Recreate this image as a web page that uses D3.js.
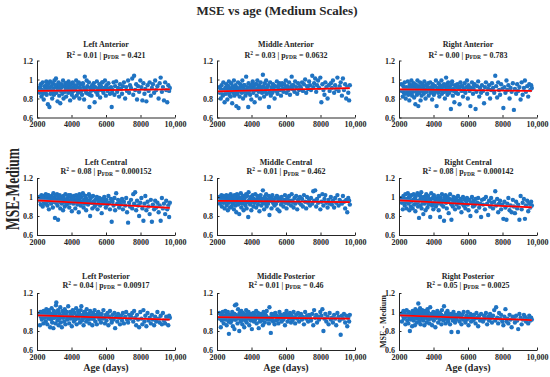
<!DOCTYPE html>
<html><head><meta charset="utf-8">
<script src="https://cdn.jsdelivr.net/npm/d3@7"></script>
<style>
body{margin:0;background:#fff}
svg{display:block}
text{font-family:"Liberation Serif","Times New Roman",serif;font-weight:bold;fill:#262626}
</style></head>
<body><svg id="c" width="550" height="377"></svg>
<script>
// ---- data ----
const ages = [
2130,2170,2220,2260,2280,2330,2370,2390,2440,2480,
2510,2540,2560,2600,2630,2670,2690,2720,2760,2790,
2820,2850,2880,2920,2950,2980,3010,3040,3070,3100,
3120,3160,3190,3220,3250,3290,3310,3350,3380,3410,
3440,3470,3510,3540,3580,3610,3650,3690,3720,3770,
3810,3830,3870,3920,3960,3990,4020,4070,4110,4140,
4180,4220,4270,4300,4340,4380,4420,4460,4490,4530,
4570,4610,4660,4700,4730,4770,4810,4850,4880,4920,
4960,5010,5040,5080,5120,5160,5210,5250,5290,5340,
5380,5420,5470,5510,5560,5620,5660,5710,5750,5800,
5850,5900,5940,5990,6030,6090,6140,6180,6230,6290,
6330,6380,6440,6490,6530,6590,6650,6700,6760,6810,
6870,6930,6980,7040,7110,7170,7220,7280,7340,7390,
7450,7520,7580,7630,7690,7750,7800,7860,7920,7990,
8050,8110,8170,8230,8280,8340,8410,8470,8530,8600,
8660,8720,8790,8850,8910,8980,9050,9110,9170,9240,
9300,9360,9430,9490,9550,9610,9660,9700,2200,2350,
2580,2740,2900,3060,3230,3400,3560,3750,3940,4100,
4290,4450,4640,4830,5060,5300,5530,5780,6060,6350,
2310,2650,3000,3330,3680,4040,4400,4790,5180,5590];

const mseLeftAnterior = [
0.91,0.86,0.95,0.82,0.89,0.97,0.88,0.79,0.93,0.90,
0.87,0.98,0.84,0.92,0.74,0.96,0.89,0.71,0.98,0.85,
0.93,0.88,0.80,0.96,0.90,0.84,0.99,0.87,0.92,1.01,
0.86,0.94,0.77,0.90,0.97,0.83,0.91,0.75,0.88,0.95,
0.92,0.85,0.99,0.80,0.93,0.87,0.96,0.82,0.90,0.94,
0.86,0.98,0.91,0.78,0.95,0.88,0.84,0.97,0.92,0.81,
0.94,0.89,0.99,0.83,0.92,0.86,0.97,0.80,0.91,0.95,
0.88,0.84,0.96,0.92,0.79,1.03,0.90,0.86,0.99,0.93,
0.85,0.97,0.71,0.91,0.88,0.83,0.94,0.89,0.96,0.76,
0.92,0.87,0.98,0.84,0.90,0.95,0.81,0.93,0.89,0.97,
0.86,0.91,0.99,0.83,0.94,0.88,0.96,0.90,0.85,0.92,
0.71,0.89,0.97,0.84,0.93,0.98,0.87,0.91,0.82,0.95,
0.90,0.85,0.93,0.97,0.80,0.92,0.88,0.99,0.86,0.94,
0.91,1.01,0.84,1.04,0.89,0.95,0.79,0.93,0.87,0.99,
0.92,0.78,0.96,0.85,0.90,0.77,0.94,0.88,0.97,0.83,
0.91,0.95,0.86,0.99,0.89,0.93,0.80,0.96,1.02,0.87,
0.92,0.78,0.97,0.89,0.76,0.94,0.88,0.91,0.93,0.85,
0.95,0.90,0.86,0.94,0.89,0.93,0.87,0.96,0.91,0.88,
0.93,0.87,0.95,0.90,0.84,0.92,0.88,0.97,0.91,0.86,
0.88,0.92,0.85,0.94,0.90,0.87,0.96,0.89,0.93,0.91];

const mseMiddleAnterior = [
0.92,0.86,0.80,0.94,0.88,0.83,0.97,0.89,0.76,0.91,
0.85,0.95,0.88,0.79,0.93,0.87,0.98,0.84,0.90,0.82,
0.96,0.88,0.75,0.92,0.86,0.99,0.83,0.90,0.94,0.87,
0.72,0.91,0.85,0.97,0.70,0.89,0.82,0.95,0.88,0.93,
0.86,0.99,0.80,0.91,0.87,0.94,0.83,1.03,0.89,0.92,
0.71,0.96,0.88,0.84,0.93,0.79,0.90,0.98,0.86,0.92,
0.76,0.95,0.89,0.83,0.99,0.91,0.87,0.94,0.80,0.97,
0.90,0.86,1.05,0.93,0.82,0.96,0.89,0.99,0.85,0.92,
0.94,0.71,0.88,0.97,0.83,0.91,0.86,0.95,0.90,0.80,
0.93,0.88,0.98,0.85,0.92,0.96,0.89,0.83,0.94,0.90,
0.87,0.95,0.91,0.99,0.86,0.93,0.89,0.97,0.84,0.92,
1.03,0.90,0.94,0.87,0.98,0.92,0.85,0.96,0.89,0.93,
0.91,0.97,0.88,0.95,1.00,0.86,0.93,0.90,0.98,0.94,
0.89,1.04,0.92,0.96,1.01,0.87,0.94,0.99,0.91,1.02,
0.76,0.95,0.89,0.84,0.97,0.92,0.80,0.94,0.88,0.96,
0.91,0.99,0.86,0.94,0.90,1.02,0.88,0.93,0.97,0.83,
1.01,0.89,0.95,0.80,0.92,0.86,0.78,0.94,0.90,0.84,
0.91,0.87,0.93,0.85,0.90,0.88,0.94,0.86,0.92,0.89,
0.95,0.88,0.92,0.90,0.86,0.93,0.89,0.96,0.91,0.94,
0.89,0.93,0.86,0.91,0.88,0.95,0.90,0.87,0.92,0.94];

const mseRightAnterior = [
0.95,0.88,0.82,0.93,0.86,0.97,0.90,0.80,0.92,0.87,
0.98,0.84,0.91,0.78,0.95,0.89,0.86,0.99,0.83,0.93,
0.87,0.96,0.81,0.91,0.74,0.94,0.88,0.84,0.99,0.90,
0.72,0.93,0.86,0.97,0.78,0.90,0.83,0.95,0.88,0.92,
0.85,0.98,0.89,0.80,0.94,0.87,0.91,0.96,0.83,0.90,
0.97,0.86,0.92,0.79,0.95,0.89,0.84,0.93,0.88,0.99,
0.72,0.91,0.86,0.96,0.82,0.94,0.89,0.99,0.85,0.92,
0.87,0.95,0.80,0.92,1.02,0.88,0.84,0.97,0.91,0.86,
0.93,0.69,0.89,0.98,0.83,0.90,0.76,0.94,0.87,0.92,
0.95,0.85,0.91,0.74,0.97,0.88,0.93,0.82,0.90,0.96,
0.86,0.92,0.99,0.80,0.94,0.88,0.72,0.91,0.97,0.85,
0.90,0.95,0.69,0.87,0.93,0.98,0.82,0.91,0.86,0.94,
0.88,0.75,0.92,0.97,0.85,0.90,0.94,0.80,0.89,0.96,
0.91,0.86,1.04,0.93,0.81,0.97,0.89,0.84,0.95,0.90,
0.70,0.92,0.86,0.99,0.89,0.94,0.80,0.91,0.87,0.96,
0.68,0.90,0.85,0.95,0.88,0.92,0.79,0.97,0.84,0.91,
0.99,0.87,0.93,0.82,0.95,0.89,0.94,0.91,0.88,0.85,
0.92,0.89,0.95,0.86,0.91,0.88,0.94,0.90,0.87,0.93,
0.89,0.93,0.87,0.91,0.95,0.86,0.92,0.88,0.90,0.94,
0.91,0.87,0.94,0.89,0.92,0.86,0.90,0.95,0.88,0.93];

const mseLeftCentral = [
1.00,0.96,0.92,1.02,0.97,0.90,1.01,0.95,0.93,0.98,
1.03,0.94,0.99,0.91,1.02,0.96,0.87,1.00,0.95,0.98,
0.93,1.01,0.97,0.89,1.04,0.95,0.99,0.78,1.02,0.94,
0.97,1.03,0.91,0.76,0.99,0.95,1.02,0.88,0.96,1.00,
0.93,0.98,0.86,1.01,0.95,0.90,1.03,0.97,0.92,0.99,
0.96,1.02,0.89,0.94,1.00,0.97,0.85,0.99,0.93,1.01,
0.95,0.88,1.02,0.97,0.92,0.99,0.84,1.03,0.96,0.91,
1.00,0.94,1.04,0.89,0.97,0.93,1.01,0.86,0.98,0.95,
0.92,1.03,0.96,0.80,0.99,0.94,0.88,1.01,0.95,0.90,
0.97,0.92,1.00,0.87,0.95,0.99,0.91,0.96,0.83,0.98,
0.93,1.00,0.96,0.89,0.97,0.92,1.01,0.94,0.87,0.98,
0.74,0.95,0.91,0.99,0.86,1.04,0.93,0.97,0.89,0.95,
0.92,0.98,0.87,0.95,0.91,0.99,0.84,0.73,0.94,0.90,
0.97,0.88,1.03,0.93,1.05,0.86,0.96,0.91,0.80,0.94,
0.99,0.88,0.75,0.93,1.01,0.86,0.95,0.90,0.82,0.97,
0.74,0.92,0.87,0.96,0.89,0.94,0.84,0.91,0.75,0.99,
0.88,0.93,0.82,0.96,0.87,0.91,0.79,0.94,0.99,0.97,
1.01,0.97,0.99,0.95,1.00,0.96,0.98,0.93,1.02,0.97,
0.98,1.00,0.95,0.97,1.01,0.94,0.99,0.96,0.93,0.97,
0.99,1.02,0.96,1.00,0.97,0.99,0.95,1.01,0.94,0.98];

const mseMiddleCentral = [
1.00,0.93,0.97,1.02,0.90,0.96,1.01,0.94,0.88,0.99,
0.95,1.02,0.91,0.98,0.86,1.01,0.94,0.97,0.89,1.03,
0.96,0.90,1.00,0.93,0.98,0.87,1.02,0.95,0.91,0.99,
0.84,1.03,0.96,0.92,1.00,0.82,0.97,0.94,1.04,0.89,
0.98,0.93,1.01,0.86,0.96,0.99,0.91,1.03,0.88,0.95,
0.79,1.05,0.97,0.92,1.00,0.86,0.95,1.02,0.90,0.98,
0.94,1.03,0.89,0.97,1.01,0.92,0.99,0.85,0.96,1.02,
0.91,0.98,1.07,0.94,0.87,1.00,0.95,1.03,0.90,0.97,
0.93,1.01,0.81,0.96,0.99,0.88,1.02,0.94,0.97,0.91,
0.99,0.93,1.01,0.87,0.96,0.85,0.98,0.92,1.00,0.95,
0.90,0.97,1.02,0.94,0.88,0.99,0.93,1.01,0.96,0.91,
1.03,0.95,0.89,0.99,0.93,1.01,0.87,0.97,0.94,1.00,
0.92,0.98,0.90,1.02,0.95,0.88,1.00,0.94,0.97,0.91,
0.99,0.93,1.06,0.96,1.07,0.90,0.98,0.94,1.01,0.87,
0.95,1.03,0.91,0.98,1.02,0.94,0.89,0.97,0.93,1.00,
0.92,0.96,0.89,0.99,0.94,1.02,0.91,0.97,0.95,0.93,
1.01,0.95,0.88,0.97,0.84,0.99,0.96,0.92,0.98,0.95,
0.97,1.00,0.95,0.98,0.93,0.99,0.96,1.01,0.94,0.97,
0.96,0.99,0.94,0.98,0.97,0.93,1.00,0.95,0.98,0.96,
0.98,0.95,1.00,0.97,0.94,0.99,0.96,0.93,0.98,0.97];

const mseRightCentral = [
0.99,0.94,0.87,1.01,0.96,0.91,1.03,0.95,0.88,0.98,
1.04,0.93,0.99,0.86,1.01,0.95,0.90,1.02,0.96,0.88,
0.97,1.03,0.92,0.99,0.85,1.01,0.94,0.96,1.04,0.90,
0.95,0.78,1.02,0.97,0.91,1.05,0.88,0.99,0.94,0.82,
1.00,0.93,0.97,0.86,1.03,0.95,0.89,1.01,0.92,0.98,
0.79,0.96,1.04,0.91,0.99,0.87,1.02,0.94,0.97,0.90,
0.98,0.93,1.01,0.86,0.95,0.79,0.99,0.92,1.03,0.96,
0.90,0.75,0.97,1.02,0.94,0.88,1.00,0.95,0.83,0.98,
1.03,0.93,0.76,0.97,0.90,1.00,0.95,0.87,0.99,0.92,
0.96,1.01,0.89,0.94,0.98,0.84,0.93,1.00,0.91,0.97,
0.88,0.95,0.99,0.92,0.86,0.97,0.80,0.94,1.00,0.90,
0.96,0.91,0.98,0.85,0.94,0.99,0.89,0.93,0.79,0.97,
0.92,0.98,0.87,1.00,0.93,0.81,0.96,0.90,0.99,0.94,
0.88,0.95,1.06,0.91,0.98,0.84,0.93,0.96,0.87,0.92,
0.77,0.95,0.89,0.76,0.93,0.99,0.86,0.91,0.84,0.97,
0.90,0.83,0.95,0.88,0.92,0.76,1.01,0.87,0.94,0.98,
0.77,0.91,0.96,0.85,0.93,0.89,0.95,0.91,0.97,0.95,
1.00,0.96,0.98,0.94,1.01,0.97,0.99,0.95,0.93,0.98,
0.97,0.94,1.00,0.96,0.92,0.98,0.95,0.91,0.97,0.93,
0.98,1.01,0.95,0.99,0.96,1.00,0.94,0.97,0.99,0.96];

const mseLeftPosterior = [
0.98,0.86,0.95,1.00,0.92,0.97,0.88,1.01,0.94,0.99,
0.90,1.03,0.96,0.87,0.99,0.93,1.02,0.95,0.84,0.98,
0.92,1.04,0.89,0.97,0.83,1.01,0.94,0.99,0.88,1.07,
1.10,0.95,0.91,1.02,0.86,0.98,0.93,1.05,0.89,0.96,
0.84,1.01,0.94,0.99,0.90,1.03,0.87,0.96,1.00,0.92,
1.06,0.95,0.88,1.00,0.93,0.97,0.85,1.02,0.94,0.90,
0.99,0.92,1.04,0.87,0.96,1.01,0.93,0.98,0.89,1.02,
1.06,0.91,0.97,0.86,1.00,0.94,0.99,0.90,1.03,0.95,
0.92,0.98,0.88,1.01,0.94,0.96,0.86,0.99,0.93,1.02,
0.90,0.97,0.87,0.95,1.00,0.92,0.96,0.89,0.98,0.93,
1.02,0.94,0.88,0.97,0.91,0.99,0.86,0.95,1.01,0.93,
0.89,0.97,0.92,0.99,0.83,0.95,0.90,0.98,0.94,0.87,
0.96,0.91,0.99,0.88,0.95,1.00,0.92,0.89,0.97,0.93,
0.95,0.99,0.90,1.01,0.94,0.86,0.97,0.92,0.84,1.00,
0.93,0.87,1.02,0.90,0.96,0.85,0.99,0.91,0.94,0.88,
0.97,0.92,0.86,0.95,0.90,1.00,0.93,0.89,0.96,0.87,
0.99,0.91,0.88,0.95,0.93,0.86,0.96,0.94,1.00,0.95,
0.96,0.99,0.94,0.97,1.00,0.95,0.98,0.93,0.97,1.01,
0.95,0.98,0.94,0.97,0.93,0.96,0.99,0.94,0.97,0.92,
0.97,0.94,0.99,0.96,1.00,0.95,0.98,0.96,0.93,0.97];

const mseMiddlePosterior = [
0.99,0.93,0.84,0.97,0.91,1.00,0.95,0.88,0.96,1.01,
0.92,0.98,0.86,0.95,1.00,0.90,0.77,0.97,0.93,0.89,
0.96,0.91,1.00,0.85,0.94,0.98,0.82,1.07,0.92,0.97,
1.08,0.93,0.88,1.03,0.96,0.80,0.99,0.94,0.90,1.01,
0.95,0.87,0.99,0.92,0.84,0.97,0.91,1.02,0.89,0.96,
0.93,1.00,0.86,0.96,0.91,0.98,0.82,0.94,0.99,0.90,
0.97,0.92,1.01,0.88,0.95,0.99,0.83,0.94,0.90,0.98,
0.91,0.96,0.86,1.00,0.93,0.89,0.97,0.95,1.01,0.92,
0.94,0.88,1.05,0.92,0.78,0.98,0.95,0.90,0.96,0.87,
0.99,0.91,0.96,0.93,0.88,1.00,0.94,0.97,0.90,0.95,
0.92,0.98,0.86,0.95,1.01,0.90,0.96,0.93,0.99,0.89,
0.96,0.91,1.00,0.94,0.88,0.97,0.93,0.99,0.90,0.95,
0.98,0.92,0.95,0.87,1.00,0.93,0.96,0.90,0.97,0.94,
0.91,0.98,0.86,1.02,0.94,0.97,0.89,0.95,0.92,1.00,
0.96,1.03,0.80,0.93,0.98,0.90,0.95,0.87,0.99,0.92,
0.94,0.89,0.97,0.93,0.86,0.99,0.95,0.91,0.76,0.96,
0.93,0.98,0.89,0.96,0.85,0.94,0.90,0.97,0.95,0.93,
0.96,0.94,0.98,0.92,0.95,0.97,0.93,0.99,0.94,0.96,
0.95,0.97,0.93,0.96,0.94,0.98,0.92,0.95,0.97,0.94,
0.94,0.96,0.98,0.93,0.95,0.97,0.94,0.96,0.92,0.95];

const mseRightPosterior = [
0.98,0.90,0.96,1.01,0.93,0.99,0.87,0.95,1.02,0.91,
0.97,0.88,1.00,0.94,0.80,0.98,0.92,0.96,0.85,1.01,
0.95,0.91,0.99,0.86,1.03,0.94,0.97,0.89,1.01,0.93,
1.09,0.96,0.90,1.04,0.87,0.99,0.93,1.02,0.95,0.91,
0.98,0.86,1.01,0.94,0.97,0.89,1.03,0.92,0.96,0.88,
1.05,0.93,0.98,0.86,0.95,1.00,0.91,0.97,0.84,0.99,
0.94,1.01,0.89,0.96,0.99,0.92,0.97,0.87,1.02,0.95,
0.91,1.06,0.96,0.88,0.99,0.93,1.01,0.90,0.97,0.94,
0.87,0.98,0.79,0.95,0.91,1.00,0.93,0.89,0.97,0.92,
0.96,0.79,0.99,0.90,0.94,0.87,0.97,0.92,1.00,0.93,
0.89,0.96,0.92,1.00,0.86,0.94,0.98,0.90,0.95,0.91,
0.97,0.93,0.88,0.99,0.94,0.85,0.96,0.91,0.98,0.92,
0.90,0.96,0.93,0.99,0.87,0.95,0.91,0.98,0.94,0.89,
0.96,1.02,0.91,1.05,0.94,0.88,0.99,0.93,0.97,0.90,
0.86,0.95,1.03,0.90,0.93,0.88,0.97,0.92,0.84,0.95,
0.93,0.89,0.96,0.91,0.82,0.98,0.94,0.87,0.92,0.97,
0.95,0.90,0.93,0.88,0.96,0.91,0.94,0.92,0.99,0.96,
0.96,0.99,0.94,0.98,1.00,0.95,0.97,0.93,0.96,0.98,
0.95,0.97,0.93,0.99,0.94,0.96,0.98,0.92,0.95,0.97,
0.97,0.94,0.99,0.96,1.00,0.95,0.98,0.93,0.97,0.96];

const panelNames = ["Left Anterior","Middle Anterior","Right Anterior",
                    "Left Central","Middle Central","Right Central",
                    "Left Posterior","Middle Posterior","Right Posterior"];
const r2Values = ["0.01","0.03","0.00","0.08","0.01","0.08","0.04","0.01","0.05"];
const pValues  = ["0.421","0.0632","0.783","0.000152","0.462","0.000142","0.00917","0.46","0.0025"];
const fitAges  = [2000, 9700];
const fitStart = [0.880,0.875,0.895,0.965,0.960,0.965,0.965,0.945,0.965];
const fitEnd   = [0.897,0.910,0.880,0.885,0.945,0.890,0.920,0.930,0.915];
const bandHalf = [0.012,0.014,0.012,0.014,0.010,0.014,0.012,0.010,0.012];
const xTicks = [2000,4000,6000,8000,10000];
const xTickLabels = ["2000","4000","6000","8000","10,000"];
const yTicks = [0.6,0.8,1,1.2];
const yTickLabels = ["0.6","0.8","1","1.2"];
const panelSeries = [mseLeftAnterior,mseMiddleAnterior,mseRightAnterior,
                     mseLeftCentral,mseMiddleCentral,mseRightCentral,
                     mseLeftPosterior,mseMiddlePosterior,mseRightPosterior];

// ---- layout ----
const colX = [37, 217, 399];
const rowTop = [60.5, 178, 293];
const plotW = 138, plotH = 57;
const titleY = [47, 164.5, 278.5];
const statY  = [57.5, 174, 287.5];

const svg = d3.select("#c");

svg.append("text").attr("x", 277).attr("y", 15).attr("text-anchor","middle")
  .attr("font-size", 13).text("MSE vs age (Medium Scales)");

svg.append("text").attr("transform","translate(19,189) rotate(-90)")
  .attr("text-anchor","middle").attr("font-size",18)
  .attr("textLength",82).attr("lengthAdjust","spacingAndGlyphs")
  .text("MSE-Medium");

panelNames.forEach((name, i) => {
  const col = i % 3, row = Math.floor(i / 3);
  const x0 = colX[col], top = rowTop[row];
  const x = d3.scaleLinear().domain([2000, 10000]).range([x0, x0 + plotW]);
  const y = d3.scaleLinear().domain([0.6, 1.2]).range([top + plotH, top]);
  const g = svg.append("g");
  const cx = x0 + plotW / 2;

  g.append("text").attr("x", cx).attr("y", titleY[row]).attr("text-anchor","middle")
    .attr("font-size", 8).text(name);
  const st = g.append("text").attr("x", cx).attr("y", statY[row]).attr("text-anchor","middle")
    .attr("font-size", 8);
  st.append("tspan").text("R");
  st.append("tspan").attr("dy",-3).attr("font-size",5.5).text("2");
  st.append("tspan").attr("dy",3).text(" = " + r2Values[i] + " | p");
  st.append("tspan").attr("dy",1.8).attr("font-size",5.5).text("FDR");
  st.append("tspan").attr("dy",-1.8).text(" = " + pValues[i]);

  // dots
  g.append("g").selectAll("circle").data(ages).join("circle")
    .attr("cx", d => x(d)).attr("cy", (d, j) => y(panelSeries[i][j]))
    .attr("r", 2.2).attr("fill", "#1f73c2");

  // confidence band
  const xm = (fitAges[0] + fitAges[1]) / 2;
  const fy = a => fitStart[i] + (fitEnd[i] - fitStart[i]) * (a - 2000) / (fitAges[1] - 2000);
  const bandPts = [fitAges[0], xm, fitAges[1]];
  const hw = a => (a === xm ? bandHalf[i] * 0.35 : bandHalf[i]);
  const area = d3.area().x(d => x(d)).y0(d => y(fy(d) - hw(d))).y1(d => y(fy(d) + hw(d)))
    .curve(d3.curveMonotoneX);
  g.append("path").datum(bandPts).attr("d", area).attr("fill", "#f4a6a6").attr("opacity", 0.55);

  // fit line
  g.append("line").attr("x1", x(fitAges[0])).attr("x2", x(fitAges[1]))
    .attr("y1", y(fy(fitAges[0]))).attr("y2", y(fy(fitAges[1])))
    .attr("stroke", "#ff0000").attr("stroke-width", 1.8);

  // axes
  const ax = g.append("g").attr("transform", `translate(0,${top + plotH})`)
    .call(d3.axisBottom(x).tickValues(xTicks).tickFormat((d, k) => xTickLabels[k])
      .tickSizeInner(-2.5).tickSizeOuter(0).tickPadding(4));
  const ay = g.append("g").attr("transform", `translate(${x0},0)`)
    .call(d3.axisLeft(y).tickValues(yTicks).tickFormat((d, k) => yTickLabels[k])
      .tickSizeInner(-2.5).tickSizeOuter(0).tickPadding(4));
  [ax, ay].forEach(a => {
    a.attr("opacity", 0.999);
    a.select(".domain").attr("stroke", "#262626").attr("stroke-width", 1);
    a.selectAll(".tick line").attr("stroke", "#262626");
    a.selectAll("text").attr("font-size", 8).attr("fill", "#262626")
      .attr("font-family", '"Liberation Serif","Times New Roman",serif').attr("font-weight","bold");
  });

  if (row === 2) {
    g.append("text").attr("x", cx).attr("y", 370.5).attr("text-anchor","middle")
      .attr("font-size", 10).text("Age (days)");
  }
  if (i === 8) {
    g.append("text").attr("transform", `translate(${x0 - 13},${top + plotH / 2}) rotate(-90)`)
      .attr("text-anchor","middle").attr("font-size", 8).text("MSE - Medium");
  }
});
</script>
</body></html>
